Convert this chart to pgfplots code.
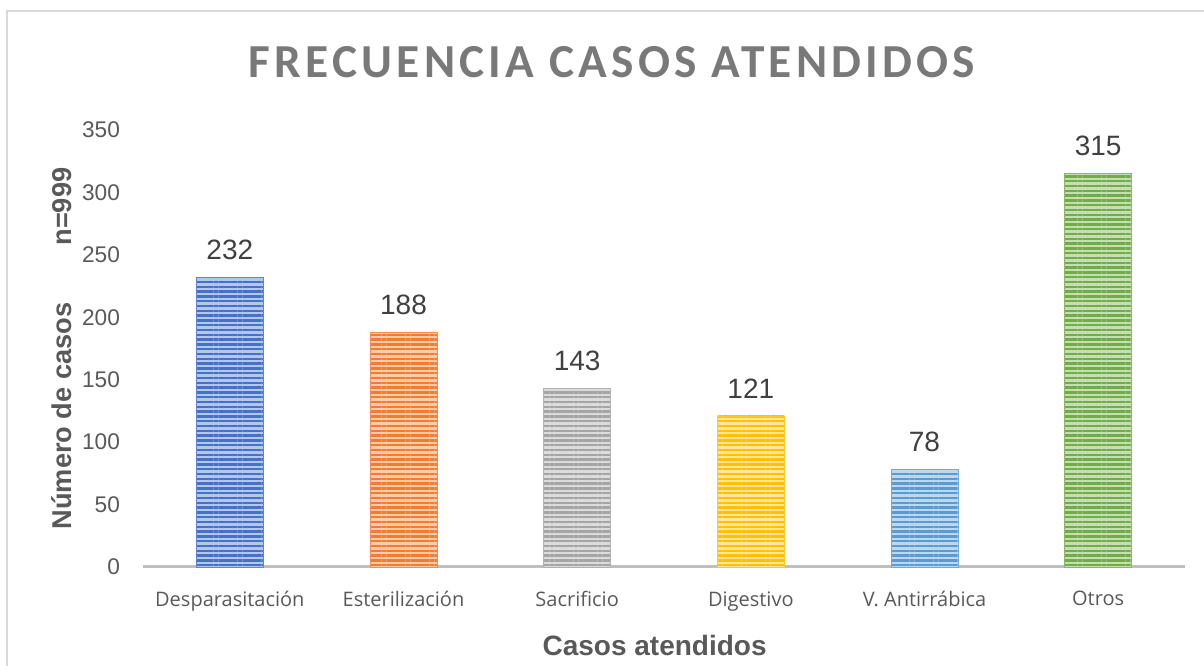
\documentclass[border=0pt]{standalone}
\usepackage{fontspec}
\setmainfont{Liberation Sans}
\newfontfamily\ticksfont{Open Sans}
\newfontfamily\titlefont[LetterSpace=9]{Carlito}
\usepackage{pgfplots}
\pgfplotsset{compat=1.18}
\usetikzlibrary{patterns.meta}
\definecolor{cBlue}{HTML}{4472C4}
\definecolor{cOrange}{HTML}{ED7D31}
\definecolor{cGray}{HTML}{A5A5A5}
\definecolor{cYellow}{HTML}{FFC000}
\definecolor{cLBlue}{HTML}{5B9BD5}
\definecolor{cGreen}{HTML}{70AD47}
\definecolor{txt}{HTML}{595959}
\definecolor{lbl}{HTML}{404040}
\definecolor{axln}{HTML}{BFBFBF}
\definecolor{frame}{HTML}{D9D9D9}
\pgfplotsset{
  stripes/.style={
    fill=#1!40!white, draw=#1!85!white, line width=0.4pt,
    postaction={pattern={Lines[angle=0,distance=3.6pt,line width=1.8pt]}, pattern color=#1}
  }
}
\begin{document}
\begin{tikzpicture}
\useasboundingbox (0,0) rectangle (903pt,499.5pt);
\draw[frame, line width=1.5pt] (5.25pt,0) -- (5.25pt,491.25pt) -- (903pt,491.25pt);
\begin{axis}[
  at={(107.25pt,74.25pt)}, anchor=south west,
  scale only axis,
  width=781.5pt, height=327.75pt,
  ybar, bar width=50.25pt, bar shift=0pt,
  xmin=-0.5, xmax=5.5,
  ymin=0, ymax=350,
  ytick={0,50,...,350},
  xtick={0,1,2,3,4,5},
  xticklabels={Desparasitación,Esterilización,Sacrificio,Digestivo,V. Antirrábica,Otros},
  axis x line=bottom, axis y line=left,
  y axis line style={draw=none},
  x axis line style={axln, line width=2.25pt, -},
  tick style={draw=none},
  /pgf/number format/assume math mode=true,
  yticklabel style={font=\fontsize{17}{20}\selectfont, text=txt, inner sep=0pt, xshift=-15pt},
  xticklabel style={font=\ticksfont\fontsize{15}{18}\selectfont, text=txt, inner sep=0pt, yshift=-16pt},
  xlabel={Casos atendidos},
  xlabel style={font=\bfseries\fontsize{21}{24}\selectfont, text=txt, at={(axis description cs:0.491,-0.1785)}, anchor=center},
  ylabel={Número de casos\hspace{2.1em}n=999},
  ylabel style={font=\bfseries\fontsize{20.4}{24}\selectfont, text=txt, at={(axis description cs:-0.0777,0.5)}, anchor=center},
  nodes near coords,
  every node near coord/.append style={font=\fontsize{21}{24}\selectfont, text=lbl, inner sep=0pt, anchor=south, yshift=13pt},
  clip=false,
]
\addplot[stripes=cBlue] coordinates {(0,232)};
\addplot[stripes=cOrange] coordinates {(1,188)};
\addplot[stripes=cGray] coordinates {(2,143)};
\addplot[stripes=cYellow] coordinates {(3,121)};
\addplot[stripes=cLBlue] coordinates {(4,78)};
\addplot[stripes=cGreen] coordinates {(5,315)};
\end{axis}
\node[font=\titlefont\bfseries\fontsize{35.5}{40}\selectfont, text=gray!95!black] at (459pt,453pt) {FRECUENCIA CASOS ATENDIDOS};
\end{tikzpicture}
\end{document}
